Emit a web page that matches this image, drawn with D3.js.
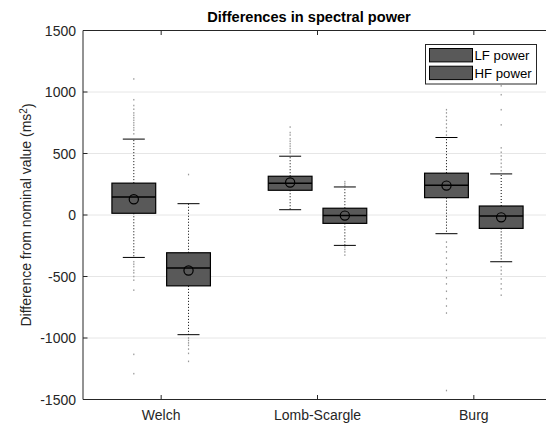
<!DOCTYPE html>
<html>
<head>
<meta charset="utf-8">
<script src="https://cdn.jsdelivr.net/npm/d3@7"></script>
<style>
  body { margin: 0; background: #fff; }
  svg text { font-family: "Liberation Sans", Arial, sans-serif; }
</style>
</head>
<body>
<div id="chart"></div>
<script>
// categories and series
const groups = ["Welch", "Lomb-Scargle", "Burg"];
const series = ["LF power", "HF power"];
const yTicks = [-1500, -1000, -500, 0, 500, 1000, 1500];

// box statistics (ms^2)
const lfQ1 = [14, 201, 141];
const lfQ3 = [259, 315, 340];
const lfMedian = [147, 258, 242];
const lfMean = [128, 264, 239];
const lfLow = [-345, 43, -152];
const lfHigh = [617, 478, 630];

const hfQ1 = [-576, -68, -109];
const hfQ3 = [-307, 55, 73];
const hfMedian = [-430, -5, -8];
const hfMean = [-451, -5, -19];
const hfLow = [-973, -247, -380];
const hfHigh = [92, 228, 334];

// outliers per box
const lfOutliers = [
    [660, 690, 710, 730, 750, 770, 790, 810, 830, 860, 890, 937, 1106, -380, -400, -420, -450, -470, -500, -530, -611, -1133, -1290],
    [505, 520, 540, 560, 580, 600, 620, 650, 670, 715],
    [650, 680, 710, 740, 770, 800, 830, 856, -220, -260, -300, -350, -400, -450, -510, -560, -620, -680, -740, -797, -1427]
];
const hfOutliers = [
    [329, -1000, -1020, -1040, -1060, -1090, -1125, -1190],
    [240, 255, 271, -260, -280, -300, -326],
    [360, 390, 420, 450, 480, 510, 546, 733, 856, 978, 1050, -421, -450, -480, -520, -560, -600, -652]
];

const width = 546, height = 425;
const margin = { top: 30, left: 83, bottom: 25 };

const svg = d3.select("#chart").append("svg")
    .attr("width", width)
    .attr("height", height);

const x = d3.scaleLinear().domain([0.5, 3.5]).range([margin.left, margin.left + 469]);
const y = d3.scaleLinear().domain([-1500, 1500]).range([399.5, 30.5]);

const axisColor = "#262626";
const boxFill = "#595959";
const offset = [-0.175, 0.175];
const boxW = 0.28;

// gridlines
svg.append("g").selectAll("line")
    .data(yTicks.slice(1, -1))
    .join("line")
    .attr("x1", x(0.5)).attr("x2", width)
    .attr("y1", d => y(d)).attr("y2", d => y(d))
    .attr("stroke", "#e6e6e6")
    .attr("stroke-width", 1);

// build box rows
const boxes = [];
groups.forEach((g, i) => {
    boxes.push({ g: i + 1 + offset[0], q1: lfQ1[i], q3: lfQ3[i], med: lfMedian[i], mean: lfMean[i], lo: lfLow[i], hi: lfHigh[i], out: lfOutliers[i] });
    boxes.push({ g: i + 1 + offset[1], q1: hfQ1[i], q3: hfQ3[i], med: hfMedian[i], mean: hfMean[i], lo: hfLow[i], hi: hfHigh[i], out: hfOutliers[i] });
});

const bx = svg.append("g").selectAll("g")
    .data(boxes)
    .join("g");

// outliers
bx.each(function(d) {
    d3.select(this).selectAll("rect.out")
        .data(d.out)
        .join("rect")
        .attr("class", "out")
        .attr("x", x(d.g) - 0.6)
        .attr("y", v => y(v) - 0.8)
        .attr("width", 1.2)
        .attr("height", 1.6)
        .attr("fill", "#9a9a9a");
});

// whiskers
bx.append("line")
    .attr("x1", d => x(d.g)).attr("x2", d => x(d.g))
    .attr("y1", d => y(d.q3)).attr("y2", d => y(d.hi))
    .attr("stroke", "#000").attr("stroke-dasharray", "1,2");
bx.append("line")
    .attr("x1", d => x(d.g)).attr("x2", d => x(d.g))
    .attr("y1", d => y(d.q1)).attr("y2", d => y(d.lo))
    .attr("stroke", "#000").attr("stroke-dasharray", "1,2");

// caps
["hi", "lo"].forEach(k => {
    bx.append("line")
        .attr("x1", d => x(d.g) - 11).attr("x2", d => x(d.g) + 11)
        .attr("y1", d => y(d[k])).attr("y2", d => y(d[k]))
        .attr("stroke", "#000");
});

// boxes
bx.append("rect")
    .attr("x", d => x(d.g - boxW / 2))
    .attr("y", d => y(d.q3))
    .attr("width", d => x(d.g + boxW / 2) - x(d.g - boxW / 2))
    .attr("height", d => y(d.q1) - y(d.q3))
    .attr("fill", boxFill)
    .attr("stroke", "#000")
    .attr("stroke-width", 1.2);

// median
bx.append("line")
    .attr("x1", d => x(d.g - boxW / 2)).attr("x2", d => x(d.g + boxW / 2))
    .attr("y1", d => y(d.med)).attr("y2", d => y(d.med))
    .attr("stroke", "#000").attr("stroke-width", 1.5);

// mean marker
bx.append("circle")
    .attr("cx", d => x(d.g))
    .attr("cy", d => y(d.mean))
    .attr("r", 4.6)
    .attr("fill", "none")
    .attr("stroke", "#000")
    .attr("stroke-width", 1.2);

// axes lines
svg.append("line")
    .attr("x1", x(0.5)).attr("x2", x(0.5))
    .attr("y1", y(1500)).attr("y2", y(-1500))
    .attr("stroke", axisColor);
svg.append("line")
    .attr("x1", x(0.5)).attr("x2", width)
    .attr("y1", y(-1500)).attr("y2", y(-1500))
    .attr("stroke", axisColor);
svg.append("line")
    .attr("x1", x(0.5)).attr("x2", width)
    .attr("y1", y(1500)).attr("y2", y(1500))
    .attr("stroke", axisColor);

// y ticks
svg.append("g").selectAll("line")
    .data(yTicks)
    .join("line")
    .attr("x1", x(0.5)).attr("x2", x(0.5) + 4.5)
    .attr("y1", d => y(d)).attr("y2", d => y(d))
    .attr("stroke", axisColor);
svg.append("g").selectAll("text")
    .data(yTicks)
    .join("text")
    .attr("x", x(0.5) - 7)
    .attr("y", d => y(d))
    .attr("dy", "0.36em")
    .attr("text-anchor", "end")
    .attr("font-size", "14px")
    .attr("fill", axisColor)
    .text(d => d);

// x ticks
svg.append("g").selectAll("line")
    .data(groups)
    .join("line")
    .attr("x1", (d, i) => x(i + 1)).attr("x2", (d, i) => x(i + 1))
    .attr("y1", y(-1500)).attr("y2", y(-1500) - 4.5)
    .attr("stroke", axisColor);
svg.append("g").selectAll("line")
    .data(groups)
    .join("line")
    .attr("x1", (d, i) => x(i + 1)).attr("x2", (d, i) => x(i + 1))
    .attr("y1", y(1500)).attr("y2", y(1500) + 4.5)
    .attr("stroke", axisColor);
svg.append("g").selectAll("text")
    .data(groups)
    .join("text")
    .attr("x", (d, i) => x(i + 1))
    .attr("y", 420)
    .attr("text-anchor", "middle")
    .attr("font-size", "14px")
    .attr("fill", axisColor)
    .text(d => d);

// title
svg.append("text")
    .attr("x", 309)
    .attr("y", 22)
    .attr("text-anchor", "middle")
    .attr("font-size", "14.6px")
    .attr("font-weight", "bold")
    .attr("fill", "#000")
    .text("Differences in spectral power");

// y label
const yl = svg.append("text")
    .attr("transform", "translate(31, 215) rotate(-90)")
    .attr("text-anchor", "middle")
    .attr("font-size", "14px")
    .attr("fill", axisColor);
yl.append("tspan").text("Difference from nominal value (ms");
yl.append("tspan").attr("dy", "-0.45em").attr("font-size", "10px").text("2");
yl.append("tspan").attr("dy", "0.45em").text(")");

// legend
const legend = svg.append("g").attr("transform", "translate(425.5, 44.5)");
legend.append("rect")
    .attr("width", 111).attr("height", 39.5)
    .attr("fill", "#fff").attr("stroke", axisColor);
series.forEach((s, i) => {
    legend.append("rect")
        .attr("x", 4).attr("y", 4 + i * 17.7)
        .attr("width", 43).attr("height", 13.4)
        .attr("fill", boxFill).attr("stroke", "#000");
    legend.append("text")
        .attr("x", 49).attr("y", 15.5 + i * 18.2)
        .attr("font-size", "13.2px")
        .attr("fill", "#000")
        .text(s);
});
</script>
</body>
</html>
